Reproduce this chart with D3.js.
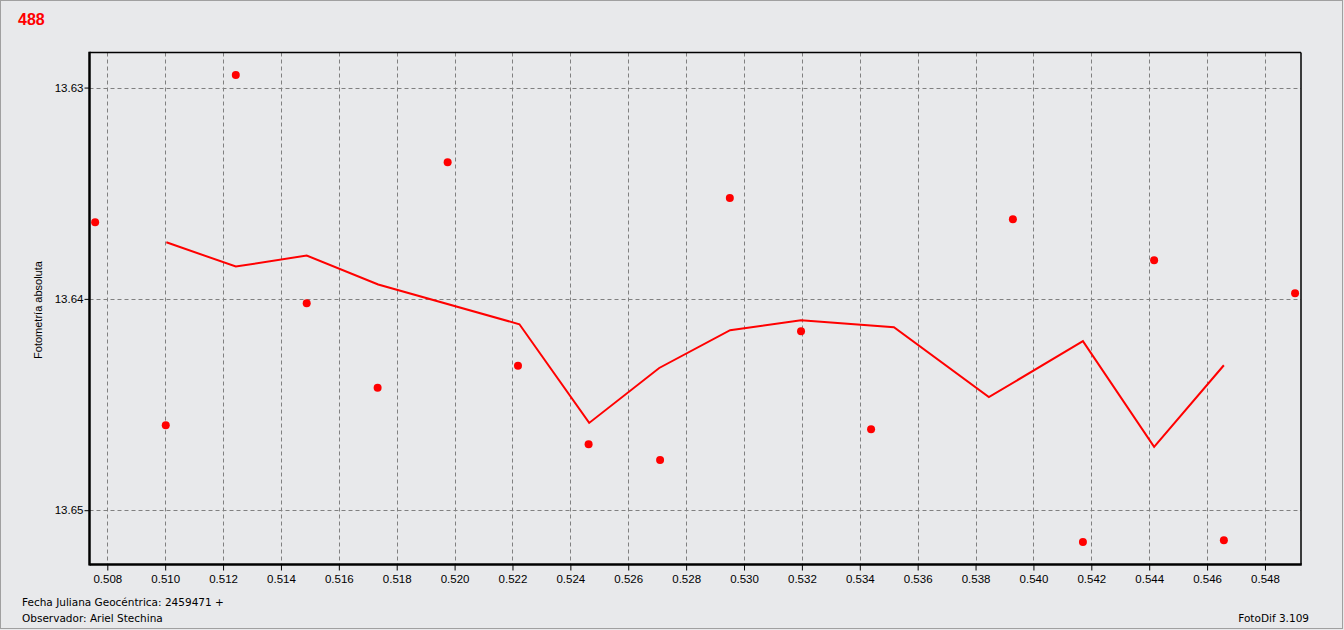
<!DOCTYPE html>
<html><head><meta charset="utf-8">
<script src="https://cdn.jsdelivr.net/npm/d3@7"></script>
<style>
html,body{margin:0;padding:0;background:#e8e9eb;}
svg{display:block;}
</style></head><body>
<svg id="c" width="1344" height="630"></svg>
<script>
const title = "488";
const yLabel = "Fotometría absoluta";
const footer1 = "Fecha Juliana Geocéntrica: 2459471 +";
const footer2 = "Observador: Ariel Stechina";
const footer3 = "FotoDif 3.109";

const xTicks = [0.508,0.510,0.512,0.514,0.516,0.518,0.520,0.522,0.524,0.526,0.528,0.530,0.532,0.534,0.536,0.538,0.540,0.542,0.544,0.546,0.548];
const yTicks = [13.63,13.64,13.65];

const pointX = [0.50758,0.51002,0.51244,0.51489,0.51734,0.51976,0.52219,0.52463,0.52710,0.52951,0.53197,0.53439,0.53929,0.54171,0.54417,0.54658,0.54904];
const pointY = [13.63637,13.64598,13.62940,13.64021,13.64421,13.63353,13.64317,13.64688,13.64763,13.63522,13.64153,13.64617,13.63623,13.65151,13.63817,13.65142,13.63973];

const lineX = [0.51004,0.51244,0.51489,0.51736,0.52224,0.52465,0.52707,0.52952,0.53197,0.53518,0.53846,0.54171,0.54417,0.54658];
const lineY = [13.63732,13.63847,13.63795,13.63932,13.64120,13.64587,13.64327,13.64148,13.64101,13.64134,13.64465,13.64200,13.64700,13.64314];

const svg = d3.select("#c");
const L = 89.5, R = 1301, T = 52.5, B = 564.5;
const x = d3.scaleLinear().domain([0.507385,0.549245]).range([L,R]);
const y = d3.scaleLinear().domain([13.62834,13.65257]).range([T,B]);

// window frame
svg.append("rect").attr("x",0.5).attr("y",0.5).attr("width",1342).attr("height",628)
  .attr("fill","#e8e9eb").attr("stroke","#a0a0a0");

// title
svg.append("text").attr("x",18).attr("y",25).text(title)
  .attr("fill","#ff0000").attr("font-family","Liberation Sans, Arial, sans-serif")
  .attr("font-weight","bold").attr("font-size",16);

const g = svg.append("g");
// gridlines
g.selectAll(".gx").data(xTicks).join("line")
  .attr("x1",d=>Math.round(x(d))+0.5).attr("x2",d=>Math.round(x(d))+0.5)
  .attr("y1",T).attr("y2",B)
  .attr("stroke","#808080").attr("stroke-dasharray","4,3");
g.selectAll(".gy").data(yTicks).join("line")
  .attr("y1",d=>Math.round(y(d))+0.5).attr("y2",d=>Math.round(y(d))+0.5)
  .attr("x1",L).attr("x2",R)
  .attr("stroke","#808080").attr("stroke-dasharray","4,3");

// frame of plot
g.append("line").attr("x1",L).attr("x2",R).attr("y1",T).attr("y2",T).attr("stroke","#000").attr("stroke-width",1.5);
g.append("line").attr("x1",R).attr("x2",R).attr("y1",T).attr("y2",B).attr("stroke","#000").attr("stroke-width",1.5);

// axes
const fmtX = d3.format(".3f");
const xMinor = d3.range(0.5075,0.5492,0.0005);
const yMinor = d3.range(13.6275,13.6526,0.0025);
const fnt = "Liberation Sans, Arial, sans-serif";

const xa = svg.append("g").attr("transform",`translate(0,${B})`);
xa.call(d3.axisBottom(x).tickValues(xMinor).tickSize(4).tickFormat(""));
xa.call(d3.axisBottom(x).tickValues(xTicks).tickSize(6).tickPadding(4).tickFormat(fmtX));
xa.selectAll(".domain").remove();
xa.selectAll("text").attr("font-family",fnt).attr("font-size",11.5).attr("fill","#000");

const ya = svg.append("g").attr("transform",`translate(${L},0)`);
ya.call(d3.axisLeft(y).tickValues(yMinor.filter(v=>v>13.6283&&v<13.6526)).tickSize(4).tickFormat(""));
ya.call(d3.axisLeft(y).tickValues(yTicks).tickSize(5).tickPadding(1).tickFormat(d3.format(".2f")));
ya.selectAll(".domain").remove();
ya.selectAll("text").attr("font-family",fnt).attr("font-size",11.5).attr("fill","#000");

svg.append("line").attr("x1",L).attr("x2",L).attr("y1",T-0.75).attr("y2",B+1).attr("stroke","#000").attr("stroke-width",2.5);
svg.append("line").attr("x1",L).attr("x2",R+0.75).attr("y1",B).attr("y2",B).attr("stroke","#000").attr("stroke-width",2.5);

// y label
svg.append("text").attr("transform",`translate(42,${310}) rotate(-90)`)
  .attr("text-anchor","middle").text(yLabel)
  .attr("font-family",fnt).attr("font-size",11).attr("fill","#000");

// line
const lineData = lineX.map((v,i)=>[v,lineY[i]]);
svg.append("path").datum(lineData)
  .attr("d",d3.line().x(d=>x(d[0])).y(d=>y(d[1])))
  .attr("fill","none").attr("stroke","#ff0000").attr("stroke-width",2);

// points
const ptData = pointX.map((v,i)=>[v,pointY[i]]);
svg.selectAll(".pt").data(ptData).join("circle")
  .attr("cx",d=>x(d[0])).attr("cy",d=>y(d[1])).attr("r",4)
  .attr("fill","#ff0000");

// footer
const ff = "DejaVu Sans, Verdana, sans-serif";
svg.append("text").attr("x",22).attr("y",606).text(footer1)
  .attr("font-family",ff).attr("font-size",10.5).attr("fill","#000");
svg.append("text").attr("x",22).attr("y",622).text(footer2)
  .attr("font-family",ff).attr("font-size",10.5).attr("fill","#000");
svg.append("text").attr("x",1309).attr("y",622).attr("text-anchor","end").text(footer3)
  .attr("font-family",ff).attr("font-size",10.5).attr("fill","#000");
</script>
</body></html>
